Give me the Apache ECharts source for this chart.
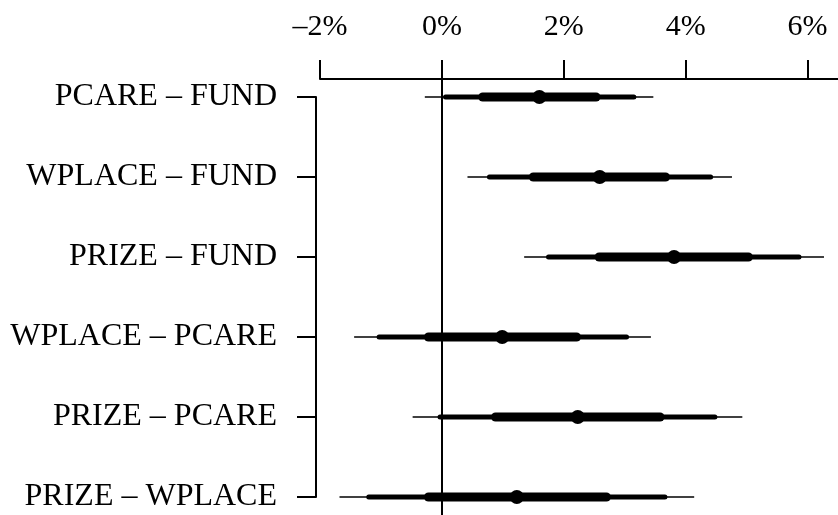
<!DOCTYPE html>
<html>
<head>
<meta charset="utf-8">
<script src="https://cdn.jsdelivr.net/npm/echarts@6/dist/echarts.min.js"></script>
<style>
html,body{margin:0;padding:0;background:#fff;}
#chart{width:838px;height:515px;}
</style>
</head>
<body>
<div id="chart"></div>
<script>
// ---- data ----
const categories = ["PCARE \u2013 FUND","WPLACE \u2013 FUND","PRIZE \u2013 FUND","WPLACE \u2013 PCARE","PRIZE \u2013 PCARE","PRIZE \u2013 WPLACE"];
const estimate = [1.60, 2.59, 3.81, 0.99, 2.23, 1.23];
const outerLo  = [-0.28, 0.42, 1.35, -1.44, -0.48, -1.68];
const outerHi  = [3.47, 4.76, 6.27, 3.43, 4.93, 4.14];
const midLo    = [0.06, 0.78, 1.75, -1.03, -0.03, -1.20];
const midHi    = [3.15, 4.41, 5.86, 3.03, 4.48, 3.66];
const innerLo  = [0.67, 1.50, 2.58, -0.22, 0.88, -0.22];
const innerHi  = [2.53, 3.67, 5.03, 2.21, 3.58, 2.70];
const xTicks   = [-2, 0, 2, 4, 6];

const FONT = 'Liberation Serif';
function fmtPct(v){ return (v < 0 ? '\u2013' + Math.abs(v) : String(v)) + '%'; }

function rangeData(lo, hi){ return lo.map((l, i) => [l, hi[i], i]); }
function rangeSeries(lo, hi, width, cap){
  return {
    type: 'custom', xAxisIndex: 0, yAxisIndex: 0, silent: true,
    data: rangeData(lo, hi),
    encode: { x: [0, 1], y: 2 },
    renderItem: function(params, api){
      const y = api.value(2);
      const p1 = api.coord([api.value(0), y]);
      const p2 = api.coord([api.value(1), y]);
      return { type: 'line', shape: { x1: p1[0], y1: p1[1], x2: p2[0], y2: p2[1] },
               style: { stroke: '#000', lineWidth: width, lineCap: cap } };
    }
  };
}

const chart = echarts.init(document.getElementById('chart'), null, {renderer: 'canvas'});
chart.setOption({
  animation: false,
  backgroundColor: '#fff',
  grid: [
    { left: 320, right: 0, top: 79, bottom: 0 },
    { left: 320, right: 0, top: 97, bottom: 18 }
  ],
  xAxis: [
    { type: 'value', gridIndex: 0, position: 'top', min: -2, max: 6.5, interval: 2,
      axisLine: { show: true, onZero: false, lineStyle: { color: '#000', width: 2 } },
      axisTick: { show: true, length: 19, customValues: xTicks, lineStyle: { color: '#000', width: 2 } },
      axisLabel: { customValues: xTicks, formatter: fmtPct, margin: 37, color: '#000', fontFamily: FONT, fontSize: 30 },
      splitLine: { show: false } },
    { type: 'value', gridIndex: 1, show: false, min: -2, max: 6.5,
      axisLine: { onZero: false } }
  ],
  yAxis: [
    { type: 'value', gridIndex: 0, show: false, inverse: true, min: -0.225, max: 5.225,
      axisLine: { onZero: false } },
    { type: 'category', gridIndex: 1, data: categories, inverse: true, boundaryGap: false, offset: 4,
      position: 'left',
      axisLine: { show: true, onZero: false, lineStyle: { color: '#000', width: 2 } },
      axisTick: { show: true, length: 19, lineStyle: { color: '#000', width: 2 } },
      axisLabel: { margin: 39, color: '#000', fontFamily: FONT, fontSize: 32 },
      splitLine: { show: false } }
  ],
  series: [
    Object.assign(rangeSeries(outerLo, outerHi, 1.5, 'butt'), {
      markLine: { silent: true, symbol: 'none', label: { show: false },
        lineStyle: { color: '#000', width: 2, type: 'solid' },
        data: [{ xAxis: 0 }] }
    }),
    rangeSeries(midLo, midHi, 5, 'round'),
    rangeSeries(innerLo, innerHi, 9, 'round'),
    { type: 'scatter', xAxisIndex: 0, yAxisIndex: 0, silent: true, symbol: 'circle', symbolSize: 14,
      itemStyle: { color: '#000', opacity: 1 },
      data: estimate.map((v, i) => [v, i]) }
  ]
});
</script>
</body>
</html>
